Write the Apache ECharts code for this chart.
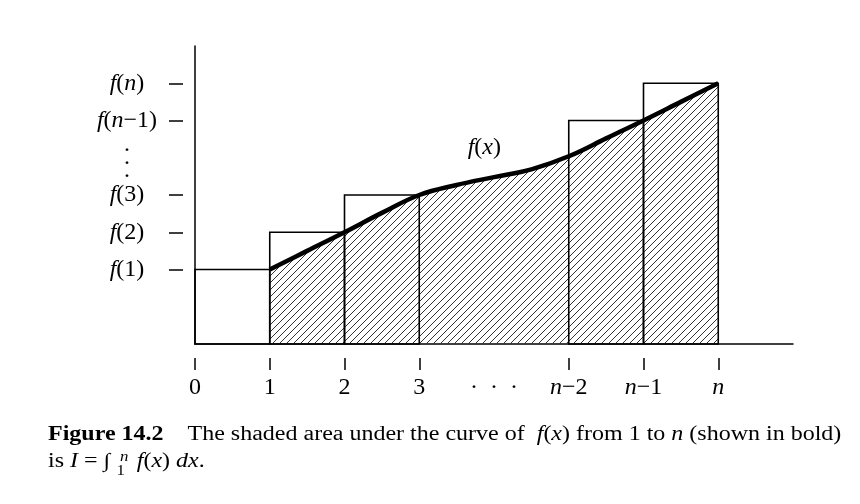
<!DOCTYPE html>
<html>
<head>
<meta charset="utf-8">
<script src="https://cdn.jsdelivr.net/npm/echarts@6/dist/echarts.min.js"></script>
<style>
  html, body { margin: 0; padding: 0; background: #fff; }
  #chart { width: 860px; height: 504px; }
</style>
</head>
<body>
<div id="chart"></div>
<script>
// the curve f(x) (x: 0..n steps, y: tick units)
const curveX = [1, 1.5, 2, 2.5, 3, 3.5, 4, 4.5, 5, 5.5, 6, 6.5, 7];
const curveY = [2, 2.5, 3, 3.52, 4, 4.27, 4.48, 4.69, 5.04, 5.52, 6, 6.5, 7];

// upper rectangles: left edge (width 1) and height f(k)
const rectLeft = [0, 1, 2, 5, 6];
const rectHeight = [2, 3, 4, 6, 7];

// ticks and labels
const xTickVals = [0, 1, 2, 3, 5, 6, 7];
const xLabelVals = [0, 1, 2, 3, 4, 5, 6, 7];
const xLabels = ['0', '1', '2', '3', '·  ·  ·', '{i|n}−2', '{i|n}−1', '{i|n}'];
const yTickVals = [2, 3, 4, 6, 7];
const yLabelVals = [2, 3, 4, 5, 6, 7];
const yLabels = ['{i|f}(1)', '{i|f}(2)', '{i|f}(3)', '{d|.}\n{d|.}\n{d|.}', '{i|f}({i|n}−1)', '{i|f}({i|n})'];

const fxLabelAt = [3.87, 5.28];

const serif = '"Liberation Serif", "Times New Roman", serif';

// hatch pattern for the shaded area
const hatch = document.createElement('canvas');
hatch.width = 7;
hatch.height = 7;
const hctx = hatch.getContext('2d');
hctx.strokeStyle = '#333';
hctx.lineWidth = 1;
hctx.beginPath();
hctx.moveTo(0, 7); hctx.lineTo(7, 0);
hctx.moveTo(-1, 1); hctx.lineTo(1, -1);
hctx.moveTo(6, 8); hctx.lineTo(8, 6);
hctx.stroke();

const labelRich = {
  i: { fontFamily: serif, fontStyle: 'italic', fontSize: 24, color: '#000' },
  d: { fontFamily: serif, fontSize: 24, lineHeight: 13, color: '#000' }
};
const capRich = {
  b: { fontFamily: serif, fontWeight: 'bold', fontSize: 20 },
  i: { fontFamily: serif, fontStyle: 'italic', fontSize: 20 }
};

const chart = echarts.init(document.getElementById('chart'));

const option = {
  animation: false,
  backgroundColor: '#fff',
  grid: { left: 195, right: 67, top: 46, bottom: 160, outerBoundsMode: 'none' },
  xAxis: [
    {
      type: 'value', min: 0, max: 8,
      axisLine: { show: true, onZero: false, lineStyle: { color: '#000', width: 1.5 } },
      axisTick: { show: false }, axisLabel: { show: false }, splitLine: { show: false }
    },
    {
      type: 'value', min: 0, max: 8, position: 'bottom', offset: 14,
      axisLine: { show: false, onZero: false },
      axisTick: { show: true, length: 12, customValues: xTickVals, lineStyle: { color: '#000', width: 1.5 } },
      axisLabel: {
        customValues: xLabelVals, margin: 18,
        formatter: v => xLabels[xLabelVals.indexOf(v)],
        fontFamily: serif, fontSize: 24, color: '#000', rich: labelRich
      },
      splitLine: { show: false }
    }
  ],
  yAxis: [
    {
      type: 'value', min: 0, max: 8,
      axisLine: { show: true, onZero: false, lineStyle: { color: '#000', width: 1.5 } },
      axisTick: { show: false }, axisLabel: { show: false }, splitLine: { show: false }
    },
    {
      type: 'value', min: 0, max: 8, position: 'left', offset: 12,
      axisLine: { show: false, onZero: false },
      axisTick: { show: true, length: 14, customValues: yTickVals, lineStyle: { color: '#000', width: 1.5 } },
      axisLabel: {
        customValues: yLabelVals, margin: 56, align: 'center',
        formatter: v => yLabels[yLabelVals.indexOf(v)],
        fontFamily: serif, fontSize: 24, color: '#000', rich: labelRich
      },
      splitLine: { show: false }
    }
  ],
  series: [
    {
      // hatched area under the curve
      type: 'line', smooth: 0.4, symbol: 'none', z: 1, silent: true,
      data: curveX.map((x, i) => [x, curveY[i]]),
      lineStyle: { width: 0 },
      areaStyle: { color: { image: hatch, repeat: 'repeat' }, opacity: 1 }
    },
    {
      type: 'custom', z: 3, silent: true,
      data: rectLeft.map((x, i) => [x, x + 1, rectHeight[i]]),
      renderItem: (params, api) => {
        const p0 = api.coord([api.value(0), api.value(2)]);
        const p1 = api.coord([api.value(1), 0]);
        return {
          type: 'rect',
          shape: { x: p0[0], y: p0[1], width: p1[0] - p0[0], height: p1[1] - p0[1] },
          style: { fill: 'none', stroke: '#000', lineWidth: 1.6 }
        };
      }
    },
    {
      // the bold curve f(x)
      type: 'line', smooth: 0.4, symbol: 'none', z: 5, silent: true,
      data: curveX.map((x, i) => [x, curveY[i]]),
      lineStyle: { color: '#000', width: 4.5 }
    },
    {
      type: 'scatter', symbolSize: 1, z: 6, silent: true,
      itemStyle: { color: '#fff', opacity: 1 },
      data: [fxLabelAt],
      label: {
        show: true, position: 'inside', formatter: '{i|f}({i|x})',
        fontFamily: serif, fontSize: 24, color: '#000', opacity: 1, rich: labelRich
      }
    }
  ],
  graphic: [
    {
      type: 'text', x: 48, y: 425, scaleX: 1.2, silent: true,
      style: {
        text: '{b|Figure 14.2}    The shaded area under the curve of  {i|f}({i|x}) from 1 to {i|n} (shown in bold)',
        font: '20px ' + serif, fill: '#000', rich: capRich
      }
    },
    {
      type: 'group', x: 48, y: 450, scaleX: 1.2, silent: true,
      children: [
        { type: 'text', x: 0, y: 2, style: { text: 'is {i|I} = ∫', font: '20px ' + serif, fill: '#000', rich: capRich } },
        { type: 'text', x: 60, y: 0, style: { text: 'n', font: 'italic 14px ' + serif, fill: '#000' } },
        { type: 'text', x: 57, y: 14, style: { text: '1', font: '14px ' + serif, fill: '#000' } },
        { type: 'text', x: 74, y: 2, style: { text: '{i|f}({i|x}) {i|dx}.', font: '20px ' + serif, fill: '#000', rich: capRich } }
      ]
    }
  ]
};

chart.setOption(option);
</script>
</body>
</html>
